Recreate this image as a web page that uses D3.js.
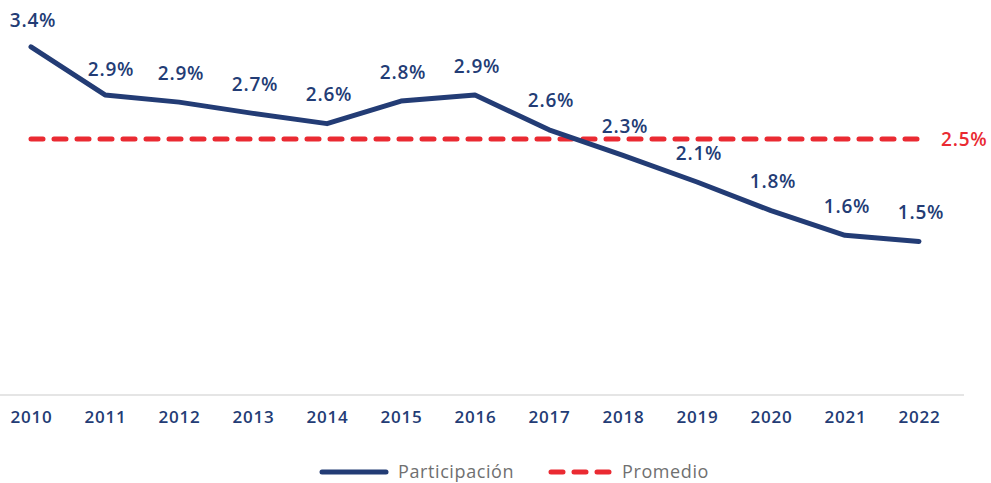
<!DOCTYPE html>
<html>
<head>
<meta charset="utf-8">
<script src="https://cdn.jsdelivr.net/npm/d3@7"></script>
<style>
  body { margin: 0; background: #fff; }
  text { font-family: "Open Sans", sans-serif; }
</style>
</head>
<body>
<div id="chart"></div>
<script>
// data
var years = ["2010", "2011", "2012", "2013", "2014", "2015", "2016", "2017", "2018", "2019", "2020", "2021", "2022"];
var participacion = [3.4, 2.93, 2.86, 2.75, 2.65, 2.87, 2.93, 2.59, 2.34, 2.08, 1.8, 1.56, 1.5];
var labels = ["3.4%", "2.9%", "2.9%", "2.7%", "2.6%", "2.8%", "2.9%", "2.6%", "2.3%", "2.1%", "1.8%", "1.6%", "1.5%"];
var promedio = 2.5;
var promedioLabel = "2.5%";
var legendNames = ["Participación", "Promedio"];

var width = 991, height = 483;
var navy = "#233c75", red = "#ea2a32";

var svg = d3.select("#chart")
  .append("svg")
  .attr("width", width)
  .attr("height", height);

var x = d3.scalePoint()
  .domain(years)
  .range([31, 919]);

var y = d3.scaleLinear()
  .domain([0, 2.5])
  .range([395, 139]);

// bottom axis line
svg.append("line")
  .attr("x1", 0)
  .attr("x2", 964)
  .attr("y1", y(0))
  .attr("y2", y(0))
  .attr("stroke", "#dcdcdc")
  .attr("stroke-width", 1.5);

var xAxis = svg.append("g")
  .attr("transform", "translate(0," + y(0) + ")")
  .call(d3.axisBottom(x).tickSize(0).tickPadding(16));
xAxis.select(".domain").remove();
xAxis.selectAll("text")
  .attr("font-family", "Open Sans, sans-serif")
  .attr("font-size", "17px")
  .attr("font-weight", 600)
  .attr("letter-spacing", "0.8px")
  .attr("fill", navy);

// average line
svg.append("line")
  .attr("x1", x(years[0]))
  .attr("x2", x(years[years.length - 1]))
  .attr("y1", y(promedio))
  .attr("y2", y(promedio))
  .attr("stroke", red)
  .attr("stroke-width", 5)
  .attr("stroke-linecap", "round")
  .attr("stroke-dasharray", "12,11");

svg.append("text")
  .attr("x", 941)
  .attr("y", y(promedio))
  .attr("dy", "0.35em")
  .attr("fill", red)
  .attr("font-size", "19px")
  .attr("font-weight", 600)
  .attr("letter-spacing", "0.8px")
  .text(promedioLabel);

// main line
var line = d3.line()
  .x(function (d, i) { return x(years[i]); })
  .y(function (d) { return y(d); });

svg.append("path")
  .datum(participacion)
  .attr("d", line)
  .attr("fill", "none")
  .attr("stroke", navy)
  .attr("stroke-width", 5)
  .attr("stroke-linecap", "round")
  .attr("stroke-linejoin", "round");

svg.selectAll(".lbl")
  .data(participacion)
  .enter()
  .append("text")
  .attr("class", "lbl")
  .attr("x", function (d, i) { return x(years[i]) + (i === 1 ? 6 : 2); })
  .attr("y", function (d, i) { return y(d) - (i < 2 ? 26 : 29); })
  .attr("dy", "0.35em")
  .attr("text-anchor", "middle")
  .attr("fill", navy)
  .attr("font-size", "19px")
  .attr("font-weight", 600)
  .attr("letter-spacing", "0.8px")
  .text(function (d, i) { return labels[i]; });

// legend
var legend = svg.append("g").attr("transform", "translate(0,472)");
legend.append("line")
  .attr("x1", 322).attr("x2", 386)
  .attr("stroke", navy).attr("stroke-width", 5)
  .attr("stroke-linecap", "round");
legend.append("text")
  .attr("x", 398).attr("dy", "0.35em")
  .attr("fill", "#707070").attr("font-size", "18px")
  .attr("letter-spacing", "0.6px")
  .text(legendNames[0]);
legend.append("line")
  .attr("x1", 551).attr("x2", 609)
  .attr("stroke", red).attr("stroke-width", 5)
  .attr("stroke-linecap", "round")
  .attr("stroke-dasharray", "12,11");
legend.append("text")
  .attr("x", 622).attr("dy", "0.35em")
  .attr("fill", "#707070").attr("font-size", "18px")
  .attr("letter-spacing", "0.6px")
  .text(legendNames[1]);
</script>
</body>
</html>
